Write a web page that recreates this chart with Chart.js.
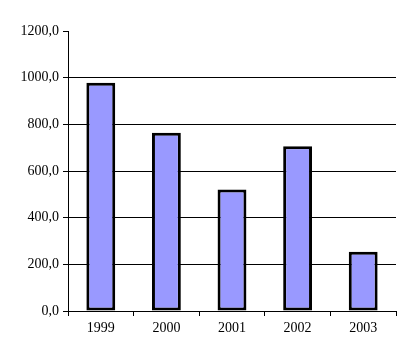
<!DOCTYPE html>
<html>
<head>
<meta charset="utf-8">
<script src="https://cdn.jsdelivr.net/npm/chart.js@4"></script>
<style>
  html, body { margin: 0; padding: 0; background: #fff; }
  #wrap { width: 415px; height: 361px; }
</style>
</head>
<body>
<div id="wrap"><canvas id="chart"></canvas></div>
<script>
// Data
const years = ['1999', '2000', '2001', '2002', '2003'];
const values = [978, 764, 521, 706, 254];
const yTicks = [0, 200, 400, 600, 800, 1000, 1200];

const font = { family: '"Liberation Serif", "Times New Roman", serif', size: 14 };

new Chart(document.getElementById('chart'), {
    type: 'bar',
    data: {
        labels: years,
        datasets: [{
            data: values,
            backgroundColor: '#9999FF',
            borderColor: '#000',
            borderWidth: 3,
            borderSkipped: false,
            categoryPercentage: 1,
            barPercentage: 0.44
        }]
    },
    options: {
        responsive: true,
        maintainAspectRatio: false,
        animation: false,
        layout: { padding: { top: 31, right: 19, left: 0, bottom: 0 } },
        plugins: {
            legend: { display: false },
            tooltip: { enabled: false }
        },
        scales: {
            y: {
                min: 0,
                max: 1200,
                afterBuildTicks: function(scale) {
                    scale.ticks = yTicks.map(v => ({ value: v }));
                },
                afterFit: function(scale) { scale.width = 68; },
                border: { display: true, color: '#000', width: 1 },
                grid: {
                    color: function(ctx) {
                        return ctx.tick && ctx.tick.value === 1200 ? 'rgba(0,0,0,0)' : '#000';
                    },
                    tickColor: '#000',
                    tickLength: 5,
                    lineWidth: 1
                },
                ticks: {
                    color: '#000',
                    font: font,
                    padding: 4,
                    callback: function(value) {
                        return value.toFixed(1).replace('.', ',');
                    }
                }
            },
            x: {
                afterFit: function(scale) { scale.height = 50; },
                border: { display: true, color: '#000', width: 1 },
                grid: {
                    offset: true,
                    drawOnChartArea: false,
                    tickColor: '#000',
                    tickLength: 5
                },
                ticks: {
                    color: '#000',
                    font: font,
                    padding: 4,
                    maxRotation: 0
                }
            }
        }
    }
});
</script>
</body>
</html>
